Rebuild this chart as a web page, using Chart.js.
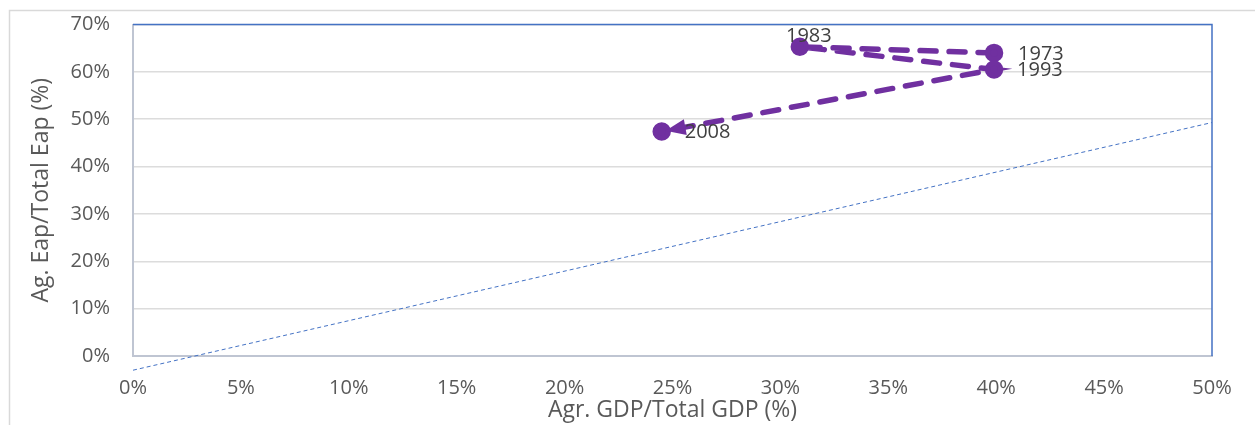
<!DOCTYPE html>
<html>
<head>
<meta charset="utf-8">
<script src="https://cdn.jsdelivr.net/npm/chart.js@4/dist/chart.umd.min.js"></script>
<style>
  html, body { margin: 0; padding: 0; background: #fff; }
  #wrap { width: 1255px; height: 425px; position: relative; }
</style>
</head>
<body>
<div id="wrap"><canvas id="c" width="1255" height="425"></canvas></div>
<script>
// Data
const years = ['1973', '1983', '1993', '2008'];
const agrGdpShare = [39.9, 30.9, 39.9, 24.5];   // x: Agr. GDP / Total GDP (%)
const agrEapShare = [64.0, 65.3, 60.5, 47.4];   // y: Ag. Eap / Total Eap (%)
const trendX = [0, 50];
const trendY = [-3.0, 49.3];
const xTitle = 'Agr. GDP/Total GDP (%)';
const yTitle = 'Ag. Eap/Total Eap (%)';

const purple = '#7030A0';
const blue = '#4472C4';
const FONT = "'Open Sans', 'DejaVu Sans', sans-serif";

const labelOffsets = { '1973': [24, 1, 'left'], '1983': [9, -10, 'center'], '1993': [23, 1, 'left'], '2008': [23, 1, 'left'] };

const framePlugin = {
  id: 'frame',
  beforeDraw(chart) {
    const ctx = chart.ctx;
    ctx.save();
    ctx.strokeStyle = '#d9d9d9';
    ctx.lineWidth = 1.5;
    ctx.beginPath();
    ctx.moveTo(9.5, 425);
    ctx.lineTo(9.5, 10.5);
    ctx.lineTo(1255, 10.5);
    ctx.stroke();
    ctx.restore();
  },
  afterDraw(chart) {
    const { ctx, chartArea: a } = chart;
    ctx.save();
    ctx.strokeStyle = blue;
    ctx.lineWidth = 1.5;
    ctx.beginPath();
    ctx.moveTo(a.left, a.top);
    ctx.lineTo(a.right, a.top);
    ctx.lineTo(a.right, a.bottom);
    ctx.stroke();
    ctx.restore();
  }
};

const arrowLabelPlugin = {
  id: 'arrowLabels',
  afterDatasetsDraw(chart) {
    const ctx = chart.ctx;
    const meta = chart.getDatasetMeta(0);
    const pts = meta.data;
    const n = pts.length;
    const p1 = pts[n - 2], p2 = pts[n - 1];
    const ang = Math.atan2(p2.y - p1.y, p2.x - p1.x);
    const tipX = p2.x - Math.cos(ang) * 4;
    const tipY = p2.y - Math.sin(ang) * 4;
    const len = 20, hw = 8;
    const bx = tipX - Math.cos(ang) * len, by = tipY - Math.sin(ang) * len;
    ctx.save();
    ctx.fillStyle = purple;
    ctx.beginPath();
    ctx.moveTo(tipX, tipY);
    ctx.lineTo(bx + Math.sin(ang) * hw, by - Math.cos(ang) * hw);
    ctx.lineTo(bx - Math.sin(ang) * hw, by + Math.cos(ang) * hw);
    ctx.closePath();
    ctx.fill();
    ctx.fillStyle = '#404040';
    ctx.font = "20px " + FONT;
    ctx.textBaseline = 'middle';
    pts.forEach((p, i) => {
      const o = labelOffsets[years[i]];
      ctx.textAlign = o[2];
      ctx.fillText(years[i], p.x + o[0], p.y + o[1]);
    });
    ctx.restore();
  }
};

new Chart(document.getElementById('c'), {
  type: 'scatter',
  data: {
    datasets: [
      {
        label: 'Path',
        data: agrGdpShare.map((x, i) => ({ x: x, y: agrEapShare[i] })),
        showLine: true,
        borderColor: purple,
        backgroundColor: purple,
        borderWidth: 5.5,
        borderDash: [16, 13],
        borderCapStyle: 'round',
        pointRadius: 6.5,
        pointBackgroundColor: purple,
        pointBorderColor: purple,
        tension: 0,
        order: 1
      },
      {
        label: 'Trend',
        data: trendX.map((x, i) => ({ x: x, y: trendY[i] })),
        showLine: true,
        borderColor: blue,
        borderWidth: 1,
        borderDash: [4, 3],
        pointRadius: 0,
        clip: false,
        order: 2
      }
    ]
  },
  options: {
    responsive: false,
    animation: false,
    devicePixelRatio: 1,
    layout: { padding: { left: 0, top: 24.5, right: 43, bottom: 0 } },
    plugins: { legend: { display: false }, tooltip: { enabled: false } },
    scales: {
      x: {
        type: 'linear',
        min: 0, max: 50,
        ticks: { stepSize: 5, padding: 20, color: '#595959', font: { family: FONT, size: 20 }, callback: v => v + '%' },
        grid: { display: false, drawTicks: false },
        border: { display: true, color: '#bfc5d2', width: 2 },
        title: { display: true, text: xTitle, color: '#595959', font: { family: FONT, size: 23 }, padding: { top: 0, bottom: 1 } },
        afterFit(s) { s.height = 69; s.paddingLeft = 0; s.paddingRight = 0; }
      },
      y: {
        type: 'linear',
        min: 0, max: 70,
        ticks: { stepSize: 10, padding: 23, color: '#595959', font: { family: FONT, size: 20 }, callback: v => v + '%' },
        grid: { color: '#dcdcdc', lineWidth: 1.5, drawTicks: false },
        border: { display: true, color: '#bfc5d2', width: 2 },
        title: { display: true, text: yTitle, color: '#595959', font: { family: FONT, size: 23 }, padding: { top: 28, bottom: 0 } },
        afterFit(s) { s.width = 133; s.paddingTop = 0; s.paddingBottom = 0; }
      }
    }
  },
  plugins: [framePlugin, arrowLabelPlugin]
});
</script>
</body>
</html>
